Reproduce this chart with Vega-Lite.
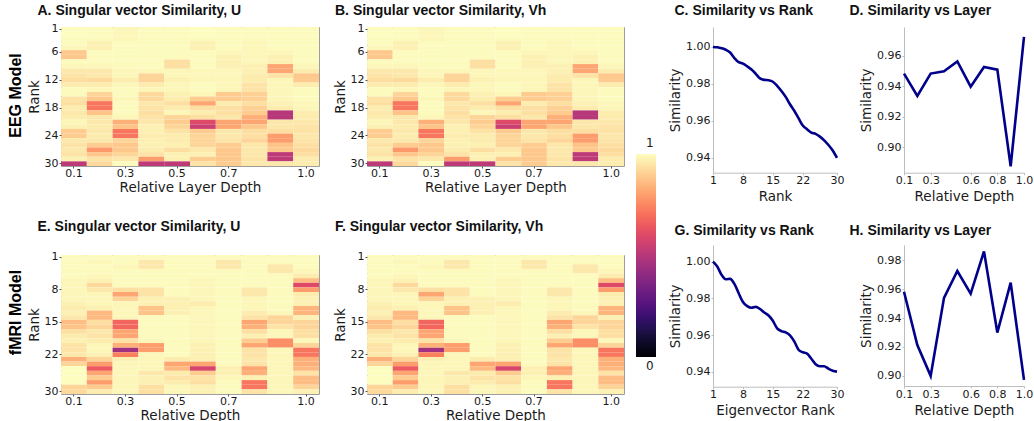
{
"$schema": "https://vega.github.io/schema/vega-lite/v6.json",
"padding": {"left": 7, "top": 3, "right": 0, "bottom": 0},
"background": "white",
"config": {
  "font": "DejaVu Sans",
  "axis": {"labelFont": "DejaVu Sans", "labelFontSize": 11, "labelColor": "#1a1a1a", "titleFont": "DejaVu Sans", "titleFontSize": 13.5, "titleFontWeight": "normal", "titleColor": "#1a1a1a", "tickSize": 2, "labelPadding": 1, "grid": false, "tickColor": "#555"},
  "axisX": {"labelPadding": -1, "titlePadding": 2},
  "title": {"font": "Liberation Sans", "fontSize": 14, "fontWeight": "bold", "color": "#111", "anchor": "start"}
},
"datasets": {
"eeg": [
{"depth":"0.1","rank":1,"sim":0.995},{"depth":"0.1","rank":2,"sim":1},{"depth":"0.1","rank":3,"sim":0.995},{"depth":"0.1","rank":4,"sim":0.995},{"depth":"0.1","rank":5,"sim":0.985},{"depth":"0.1","rank":6,"sim":0.885},{"depth":"0.1","rank":7,"sim":0.885},{"depth":"0.1","rank":8,"sim":0.995},{"depth":"0.1","rank":9,"sim":0.985},{"depth":"0.1","rank":10,"sim":0.955},{"depth":"0.1","rank":11,"sim":0.945},{"depth":"0.1","rank":12,"sim":0.935},{"depth":"0.1","rank":13,"sim":0.965},{"depth":"0.1","rank":14,"sim":0.995},{"depth":"0.1","rank":15,"sim":0.995},{"depth":"0.1","rank":16,"sim":0.945},{"depth":"0.1","rank":17,"sim":0.935},{"depth":"0.1","rank":18,"sim":0.965},{"depth":"0.1","rank":19,"sim":0.955},{"depth":"0.1","rank":20,"sim":0.965},{"depth":"0.1","rank":21,"sim":0.985},{"depth":"0.1","rank":22,"sim":0.975},{"depth":"0.1","rank":23,"sim":0.895},{"depth":"0.1","rank":24,"sim":0.895},{"depth":"0.1","rank":25,"sim":0.955},{"depth":"0.1","rank":26,"sim":0.945},{"depth":"0.1","rank":27,"sim":0.955},{"depth":"0.1","rank":28,"sim":0.945},{"depth":"0.1","rank":29,"sim":0.975},{"depth":"0.1","rank":30,"sim":0.52},
{"depth":"0.2","rank":1,"sim":0.995},{"depth":"0.2","rank":2,"sim":0.995},{"depth":"0.2","rank":3,"sim":0.995},{"depth":"0.2","rank":4,"sim":0.975},{"depth":"0.2","rank":5,"sim":0.975},{"depth":"0.2","rank":6,"sim":0.995},{"depth":"0.2","rank":7,"sim":0.995},{"depth":"0.2","rank":8,"sim":0.995},{"depth":"0.2","rank":9,"sim":0.985},{"depth":"0.2","rank":10,"sim":0.955},{"depth":"0.2","rank":11,"sim":0.955},{"depth":"0.2","rank":12,"sim":0.925},{"depth":"0.2","rank":13,"sim":0.965},{"depth":"0.2","rank":14,"sim":0.985},{"depth":"0.2","rank":15,"sim":0.915},{"depth":"0.2","rank":16,"sim":0.885},{"depth":"0.2","rank":17,"sim":0.715},{"depth":"0.2","rank":18,"sim":0.715},{"depth":"0.2","rank":19,"sim":0.875},{"depth":"0.2","rank":20,"sim":0.955},{"depth":"0.2","rank":21,"sim":0.955},{"depth":"0.2","rank":22,"sim":0.965},{"depth":"0.2","rank":23,"sim":0.955},{"depth":"0.2","rank":24,"sim":0.965},{"depth":"0.2","rank":25,"sim":0.955},{"depth":"0.2","rank":26,"sim":0.895},{"depth":"0.2","rank":27,"sim":0.785},{"depth":"0.2","rank":28,"sim":0.885},{"depth":"0.2","rank":29,"sim":0.945},{"depth":"0.2","rank":30,"sim":0.925},
{"depth":"0.3","rank":1,"sim":0.985},{"depth":"0.3","rank":2,"sim":0.985},{"depth":"0.3","rank":3,"sim":0.985},{"depth":"0.3","rank":4,"sim":0.995},{"depth":"0.3","rank":5,"sim":0.995},{"depth":"0.3","rank":6,"sim":0.995},{"depth":"0.3","rank":7,"sim":0.995},{"depth":"0.3","rank":8,"sim":0.995},{"depth":"0.3","rank":9,"sim":0.995},{"depth":"0.3","rank":10,"sim":0.985},{"depth":"0.3","rank":11,"sim":0.985},{"depth":"0.3","rank":12,"sim":0.965},{"depth":"0.3","rank":13,"sim":0.985},{"depth":"0.3","rank":14,"sim":0.995},{"depth":"0.3","rank":15,"sim":0.995},{"depth":"0.3","rank":16,"sim":0.985},{"depth":"0.3","rank":17,"sim":0.995},{"depth":"0.3","rank":18,"sim":0.995},{"depth":"0.3","rank":19,"sim":0.995},{"depth":"0.3","rank":20,"sim":0.985},{"depth":"0.3","rank":21,"sim":0.835},{"depth":"0.3","rank":22,"sim":0.875},{"depth":"0.3","rank":23,"sim":0.715},{"depth":"0.3","rank":24,"sim":0.715},{"depth":"0.3","rank":25,"sim":0.915},{"depth":"0.3","rank":26,"sim":0.885},{"depth":"0.3","rank":27,"sim":0.885},{"depth":"0.3","rank":28,"sim":0.915},{"depth":"0.3","rank":29,"sim":0.955},{"depth":"0.3","rank":30,"sim":0.995},
{"depth":"0.4","rank":1,"sim":0.995},{"depth":"0.4","rank":2,"sim":0.995},{"depth":"0.4","rank":3,"sim":0.995},{"depth":"0.4","rank":4,"sim":0.995},{"depth":"0.4","rank":5,"sim":0.995},{"depth":"0.4","rank":6,"sim":0.995},{"depth":"0.4","rank":7,"sim":0.995},{"depth":"0.4","rank":8,"sim":0.995},{"depth":"0.4","rank":9,"sim":0.995},{"depth":"0.4","rank":10,"sim":0.985},{"depth":"0.4","rank":11,"sim":0.915},{"depth":"0.4","rank":12,"sim":0.915},{"depth":"0.4","rank":13,"sim":0.965},{"depth":"0.4","rank":14,"sim":0.985},{"depth":"0.4","rank":15,"sim":0.925},{"depth":"0.4","rank":16,"sim":0.925},{"depth":"0.4","rank":17,"sim":0.955},{"depth":"0.4","rank":18,"sim":0.945},{"depth":"0.4","rank":19,"sim":0.935},{"depth":"0.4","rank":20,"sim":0.945},{"depth":"0.4","rank":21,"sim":0.955},{"depth":"0.4","rank":22,"sim":0.975},{"depth":"0.4","rank":23,"sim":0.975},{"depth":"0.4","rank":24,"sim":0.965},{"depth":"0.4","rank":25,"sim":0.975},{"depth":"0.4","rank":26,"sim":0.975},{"depth":"0.4","rank":27,"sim":0.965},{"depth":"0.4","rank":28,"sim":0.945},{"depth":"0.4","rank":29,"sim":0.795},{"depth":"0.4","rank":30,"sim":0.52},
{"depth":"0.5","rank":1,"sim":0.995},{"depth":"0.5","rank":2,"sim":0.995},{"depth":"0.5","rank":3,"sim":0.995},{"depth":"0.5","rank":4,"sim":0.995},{"depth":"0.5","rank":5,"sim":0.995},{"depth":"0.5","rank":6,"sim":0.995},{"depth":"0.5","rank":7,"sim":0.995},{"depth":"0.5","rank":8,"sim":0.935},{"depth":"0.5","rank":9,"sim":0.935},{"depth":"0.5","rank":10,"sim":0.985},{"depth":"0.5","rank":11,"sim":0.985},{"depth":"0.5","rank":12,"sim":0.975},{"depth":"0.5","rank":13,"sim":0.985},{"depth":"0.5","rank":14,"sim":0.985},{"depth":"0.5","rank":15,"sim":0.975},{"depth":"0.5","rank":16,"sim":0.965},{"depth":"0.5","rank":17,"sim":0.935},{"depth":"0.5","rank":18,"sim":0.965},{"depth":"0.5","rank":19,"sim":0.985},{"depth":"0.5","rank":20,"sim":0.915},{"depth":"0.5","rank":21,"sim":0.895},{"depth":"0.5","rank":22,"sim":0.915},{"depth":"0.5","rank":23,"sim":0.945},{"depth":"0.5","rank":24,"sim":0.965},{"depth":"0.5","rank":25,"sim":0.965},{"depth":"0.5","rank":26,"sim":0.975},{"depth":"0.5","rank":27,"sim":0.935},{"depth":"0.5","rank":28,"sim":0.975},{"depth":"0.5","rank":29,"sim":0.975},{"depth":"0.5","rank":30,"sim":0.52},
{"depth":"0.6","rank":1,"sim":1},{"depth":"0.6","rank":2,"sim":1},{"depth":"0.6","rank":3,"sim":0.995},{"depth":"0.6","rank":4,"sim":0.975},{"depth":"0.6","rank":5,"sim":0.975},{"depth":"0.6","rank":6,"sim":0.995},{"depth":"0.6","rank":7,"sim":0.995},{"depth":"0.6","rank":8,"sim":0.995},{"depth":"0.6","rank":9,"sim":0.995},{"depth":"0.6","rank":10,"sim":0.985},{"depth":"0.6","rank":11,"sim":0.985},{"depth":"0.6","rank":12,"sim":0.985},{"depth":"0.6","rank":13,"sim":0.995},{"depth":"0.6","rank":14,"sim":0.995},{"depth":"0.6","rank":15,"sim":0.985},{"depth":"0.6","rank":16,"sim":0.895},{"depth":"0.6","rank":17,"sim":0.815},{"depth":"0.6","rank":18,"sim":0.935},{"depth":"0.6","rank":19,"sim":0.965},{"depth":"0.6","rank":20,"sim":0.935},{"depth":"0.6","rank":21,"sim":0.6},{"depth":"0.6","rank":22,"sim":0.55},{"depth":"0.6","rank":23,"sim":0.895},{"depth":"0.6","rank":24,"sim":0.915},{"depth":"0.6","rank":25,"sim":0.915},{"depth":"0.6","rank":26,"sim":0.915},{"depth":"0.6","rank":27,"sim":0.955},{"depth":"0.6","rank":28,"sim":0.975},{"depth":"0.6","rank":29,"sim":0.895},{"depth":"0.6","rank":30,"sim":0.945},
{"depth":"0.7","rank":1,"sim":0.995},{"depth":"0.7","rank":2,"sim":0.995},{"depth":"0.7","rank":3,"sim":0.995},{"depth":"0.7","rank":4,"sim":0.995},{"depth":"0.7","rank":5,"sim":0.995},{"depth":"0.7","rank":6,"sim":0.985},{"depth":"0.7","rank":7,"sim":0.975},{"depth":"0.7","rank":8,"sim":0.975},{"depth":"0.7","rank":9,"sim":0.975},{"depth":"0.7","rank":10,"sim":0.985},{"depth":"0.7","rank":11,"sim":0.985},{"depth":"0.7","rank":12,"sim":0.985},{"depth":"0.7","rank":13,"sim":0.985},{"depth":"0.7","rank":14,"sim":0.985},{"depth":"0.7","rank":15,"sim":0.895},{"depth":"0.7","rank":16,"sim":0.895},{"depth":"0.7","rank":17,"sim":0.965},{"depth":"0.7","rank":18,"sim":0.935},{"depth":"0.7","rank":19,"sim":0.935},{"depth":"0.7","rank":20,"sim":0.955},{"depth":"0.7","rank":21,"sim":0.815},{"depth":"0.7","rank":22,"sim":0.815},{"depth":"0.7","rank":23,"sim":0.955},{"depth":"0.7","rank":24,"sim":0.955},{"depth":"0.7","rank":25,"sim":0.945},{"depth":"0.7","rank":26,"sim":0.895},{"depth":"0.7","rank":27,"sim":0.885},{"depth":"0.7","rank":28,"sim":0.885},{"depth":"0.7","rank":29,"sim":0.885},{"depth":"0.7","rank":30,"sim":0.895},
{"depth":"0.8","rank":1,"sim":0.995},{"depth":"0.8","rank":2,"sim":0.995},{"depth":"0.8","rank":3,"sim":0.995},{"depth":"0.8","rank":4,"sim":0.985},{"depth":"0.8","rank":5,"sim":0.985},{"depth":"0.8","rank":6,"sim":0.985},{"depth":"0.8","rank":7,"sim":0.985},{"depth":"0.8","rank":8,"sim":0.985},{"depth":"0.8","rank":9,"sim":0.975},{"depth":"0.8","rank":10,"sim":0.975},{"depth":"0.8","rank":11,"sim":0.965},{"depth":"0.8","rank":12,"sim":0.965},{"depth":"0.8","rank":13,"sim":0.945},{"depth":"0.8","rank":14,"sim":0.945},{"depth":"0.8","rank":15,"sim":0.905},{"depth":"0.8","rank":16,"sim":0.905},{"depth":"0.8","rank":17,"sim":0.935},{"depth":"0.8","rank":18,"sim":0.905},{"depth":"0.8","rank":19,"sim":0.895},{"depth":"0.8","rank":20,"sim":0.835},{"depth":"0.8","rank":21,"sim":0.815},{"depth":"0.8","rank":22,"sim":0.885},{"depth":"0.8","rank":23,"sim":0.935},{"depth":"0.8","rank":24,"sim":0.935},{"depth":"0.8","rank":25,"sim":0.915},{"depth":"0.8","rank":26,"sim":0.955},{"depth":"0.8","rank":27,"sim":0.955},{"depth":"0.8","rank":28,"sim":0.955},{"depth":"0.8","rank":29,"sim":0.945},{"depth":"0.8","rank":30,"sim":0.955},
{"depth":"0.9","rank":1,"sim":0.995},{"depth":"0.9","rank":2,"sim":0.995},{"depth":"0.9","rank":3,"sim":0.995},{"depth":"0.9","rank":4,"sim":0.995},{"depth":"0.9","rank":5,"sim":0.995},{"depth":"0.9","rank":6,"sim":0.985},{"depth":"0.9","rank":7,"sim":0.975},{"depth":"0.9","rank":8,"sim":0.975},{"depth":"0.9","rank":9,"sim":0.815},{"depth":"0.9","rank":10,"sim":0.815},{"depth":"0.9","rank":11,"sim":0.945},{"depth":"0.9","rank":12,"sim":0.985},{"depth":"0.9","rank":13,"sim":0.985},{"depth":"0.9","rank":14,"sim":0.985},{"depth":"0.9","rank":15,"sim":0.985},{"depth":"0.9","rank":16,"sim":0.985},{"depth":"0.9","rank":17,"sim":0.975},{"depth":"0.9","rank":18,"sim":0.965},{"depth":"0.9","rank":19,"sim":0.5},{"depth":"0.9","rank":20,"sim":0.5},{"depth":"0.9","rank":21,"sim":0.955},{"depth":"0.9","rank":22,"sim":0.955},{"depth":"0.9","rank":23,"sim":0.935},{"depth":"0.9","rank":24,"sim":0.795},{"depth":"0.9","rank":25,"sim":0.795},{"depth":"0.9","rank":26,"sim":0.875},{"depth":"0.9","rank":27,"sim":0.885},{"depth":"0.9","rank":28,"sim":0.52},{"depth":"0.9","rank":29,"sim":0.52},{"depth":"0.9","rank":30,"sim":0.955},
{"depth":"1.0","rank":1,"sim":0.995},{"depth":"1.0","rank":2,"sim":0.995},{"depth":"1.0","rank":3,"sim":0.995},{"depth":"1.0","rank":4,"sim":0.995},{"depth":"1.0","rank":5,"sim":0.995},{"depth":"1.0","rank":6,"sim":0.995},{"depth":"1.0","rank":7,"sim":0.995},{"depth":"1.0","rank":8,"sim":0.995},{"depth":"1.0","rank":9,"sim":0.985},{"depth":"1.0","rank":10,"sim":0.965},{"depth":"1.0","rank":11,"sim":0.885},{"depth":"1.0","rank":12,"sim":0.895},{"depth":"1.0","rank":13,"sim":0.965},{"depth":"1.0","rank":14,"sim":0.995},{"depth":"1.0","rank":15,"sim":0.995},{"depth":"1.0","rank":16,"sim":0.995},{"depth":"1.0","rank":17,"sim":0.985},{"depth":"1.0","rank":18,"sim":0.985},{"depth":"1.0","rank":19,"sim":0.965},{"depth":"1.0","rank":20,"sim":0.965},{"depth":"1.0","rank":21,"sim":0.955},{"depth":"1.0","rank":22,"sim":0.945},{"depth":"1.0","rank":23,"sim":0.945},{"depth":"1.0","rank":24,"sim":0.955},{"depth":"1.0","rank":25,"sim":0.945},{"depth":"1.0","rank":26,"sim":0.935},{"depth":"1.0","rank":27,"sim":0.925},{"depth":"1.0","rank":28,"sim":0.935},{"depth":"1.0","rank":29,"sim":0.965},{"depth":"1.0","rank":30,"sim":0.965}
],
"fmri": [
{"depth":"0.1","rank":1,"sim":0.995},{"depth":"0.1","rank":2,"sim":0.995},{"depth":"0.1","rank":3,"sim":0.995},{"depth":"0.1","rank":4,"sim":0.995},{"depth":"0.1","rank":5,"sim":0.995},{"depth":"0.1","rank":6,"sim":0.985},{"depth":"0.1","rank":7,"sim":0.985},{"depth":"0.1","rank":8,"sim":0.985},{"depth":"0.1","rank":9,"sim":0.985},{"depth":"0.1","rank":10,"sim":0.985},{"depth":"0.1","rank":11,"sim":0.975},{"depth":"0.1","rank":12,"sim":0.965},{"depth":"0.1","rank":13,"sim":0.975},{"depth":"0.1","rank":14,"sim":0.955},{"depth":"0.1","rank":15,"sim":0.865},{"depth":"0.1","rank":16,"sim":0.875},{"depth":"0.1","rank":17,"sim":0.935},{"depth":"0.1","rank":18,"sim":0.965},{"depth":"0.1","rank":19,"sim":0.975},{"depth":"0.1","rank":20,"sim":0.945},{"depth":"0.1","rank":21,"sim":0.945},{"depth":"0.1","rank":22,"sim":0.955},{"depth":"0.1","rank":23,"sim":0.835},{"depth":"0.1","rank":24,"sim":0.915},{"depth":"0.1","rank":25,"sim":1},{"depth":"0.1","rank":26,"sim":1},{"depth":"0.1","rank":27,"sim":1},{"depth":"0.1","rank":28,"sim":1},{"depth":"0.1","rank":29,"sim":0.915},{"depth":"0.1","rank":30,"sim":0.925},
{"depth":"0.2","rank":1,"sim":0.995},{"depth":"0.2","rank":2,"sim":0.985},{"depth":"0.2","rank":3,"sim":0.995},{"depth":"0.2","rank":4,"sim":0.995},{"depth":"0.2","rank":5,"sim":0.985},{"depth":"0.2","rank":6,"sim":0.975},{"depth":"0.2","rank":7,"sim":0.925},{"depth":"0.2","rank":8,"sim":0.955},{"depth":"0.2","rank":9,"sim":0.985},{"depth":"0.2","rank":10,"sim":0.985},{"depth":"0.2","rank":11,"sim":0.985},{"depth":"0.2","rank":12,"sim":0.975},{"depth":"0.2","rank":13,"sim":0.855},{"depth":"0.2","rank":14,"sim":0.855},{"depth":"0.2","rank":15,"sim":0.935},{"depth":"0.2","rank":16,"sim":0.915},{"depth":"0.2","rank":17,"sim":0.955},{"depth":"0.2","rank":18,"sim":0.945},{"depth":"0.2","rank":19,"sim":0.965},{"depth":"0.2","rank":20,"sim":0.985},{"depth":"0.2","rank":21,"sim":0.985},{"depth":"0.2","rank":22,"sim":0.975},{"depth":"0.2","rank":23,"sim":0.915},{"depth":"0.2","rank":24,"sim":0.795},{"depth":"0.2","rank":25,"sim":0.65},{"depth":"0.2","rank":26,"sim":0.815},{"depth":"0.2","rank":27,"sim":0.895},{"depth":"0.2","rank":28,"sim":0.795},{"depth":"0.2","rank":29,"sim":0.895},{"depth":"0.2","rank":30,"sim":0.965},
{"depth":"0.3","rank":1,"sim":0.995},{"depth":"0.3","rank":2,"sim":0.995},{"depth":"0.3","rank":3,"sim":0.985},{"depth":"0.3","rank":4,"sim":0.995},{"depth":"0.3","rank":5,"sim":0.995},{"depth":"0.3","rank":6,"sim":0.995},{"depth":"0.3","rank":7,"sim":0.995},{"depth":"0.3","rank":8,"sim":0.935},{"depth":"0.3","rank":9,"sim":0.815},{"depth":"0.3","rank":10,"sim":0.915},{"depth":"0.3","rank":11,"sim":0.985},{"depth":"0.3","rank":12,"sim":0.985},{"depth":"0.3","rank":13,"sim":0.985},{"depth":"0.3","rank":14,"sim":0.985},{"depth":"0.3","rank":15,"sim":0.68},{"depth":"0.3","rank":16,"sim":0.68},{"depth":"0.3","rank":17,"sim":0.815},{"depth":"0.3","rank":18,"sim":0.815},{"depth":"0.3","rank":19,"sim":0.945},{"depth":"0.3","rank":20,"sim":0.835},{"depth":"0.3","rank":21,"sim":0.45},{"depth":"0.3","rank":22,"sim":0.735},{"depth":"0.3","rank":23,"sim":0.975},{"depth":"0.3","rank":24,"sim":0.985},{"depth":"0.3","rank":25,"sim":0.985},{"depth":"0.3","rank":26,"sim":0.985},{"depth":"0.3","rank":27,"sim":0.985},{"depth":"0.3","rank":28,"sim":0.985},{"depth":"0.3","rank":29,"sim":0.985},{"depth":"0.3","rank":30,"sim":0.985},
{"depth":"0.4","rank":1,"sim":0.995},{"depth":"0.4","rank":2,"sim":0.955},{"depth":"0.4","rank":3,"sim":0.955},{"depth":"0.4","rank":4,"sim":0.995},{"depth":"0.4","rank":5,"sim":0.995},{"depth":"0.4","rank":6,"sim":0.995},{"depth":"0.4","rank":7,"sim":0.995},{"depth":"0.4","rank":8,"sim":0.945},{"depth":"0.4","rank":9,"sim":0.945},{"depth":"0.4","rank":10,"sim":0.975},{"depth":"0.4","rank":11,"sim":0.975},{"depth":"0.4","rank":12,"sim":0.875},{"depth":"0.4","rank":13,"sim":0.875},{"depth":"0.4","rank":14,"sim":0.995},{"depth":"0.4","rank":15,"sim":0.995},{"depth":"0.4","rank":16,"sim":0.995},{"depth":"0.4","rank":17,"sim":0.995},{"depth":"0.4","rank":18,"sim":0.995},{"depth":"0.4","rank":19,"sim":0.985},{"depth":"0.4","rank":20,"sim":0.795},{"depth":"0.4","rank":21,"sim":0.795},{"depth":"0.4","rank":22,"sim":0.985},{"depth":"0.4","rank":23,"sim":0.985},{"depth":"0.4","rank":24,"sim":0.985},{"depth":"0.4","rank":25,"sim":0.985},{"depth":"0.4","rank":26,"sim":0.955},{"depth":"0.4","rank":27,"sim":0.975},{"depth":"0.4","rank":28,"sim":0.975},{"depth":"0.4","rank":29,"sim":0.935},{"depth":"0.4","rank":30,"sim":0.935},
{"depth":"0.5","rank":1,"sim":0.995},{"depth":"0.5","rank":2,"sim":0.995},{"depth":"0.5","rank":3,"sim":0.995},{"depth":"0.5","rank":4,"sim":0.995},{"depth":"0.5","rank":5,"sim":0.995},{"depth":"0.5","rank":6,"sim":0.995},{"depth":"0.5","rank":7,"sim":0.995},{"depth":"0.5","rank":8,"sim":0.995},{"depth":"0.5","rank":9,"sim":0.995},{"depth":"0.5","rank":10,"sim":0.975},{"depth":"0.5","rank":11,"sim":0.975},{"depth":"0.5","rank":12,"sim":0.975},{"depth":"0.5","rank":13,"sim":0.975},{"depth":"0.5","rank":14,"sim":0.995},{"depth":"0.5","rank":15,"sim":0.995},{"depth":"0.5","rank":16,"sim":0.995},{"depth":"0.5","rank":17,"sim":0.995},{"depth":"0.5","rank":18,"sim":0.995},{"depth":"0.5","rank":19,"sim":0.995},{"depth":"0.5","rank":20,"sim":0.995},{"depth":"0.5","rank":21,"sim":0.995},{"depth":"0.5","rank":22,"sim":0.995},{"depth":"0.5","rank":23,"sim":0.965},{"depth":"0.5","rank":24,"sim":0.815},{"depth":"0.5","rank":25,"sim":0.855},{"depth":"0.5","rank":26,"sim":0.965},{"depth":"0.5","rank":27,"sim":0.945},{"depth":"0.5","rank":28,"sim":0.965},{"depth":"0.5","rank":29,"sim":0.985},{"depth":"0.5","rank":30,"sim":0.985},
{"depth":"0.6","rank":1,"sim":0.995},{"depth":"0.6","rank":2,"sim":0.995},{"depth":"0.6","rank":3,"sim":0.995},{"depth":"0.6","rank":4,"sim":0.995},{"depth":"0.6","rank":5,"sim":0.995},{"depth":"0.6","rank":6,"sim":0.985},{"depth":"0.6","rank":7,"sim":0.985},{"depth":"0.6","rank":8,"sim":0.985},{"depth":"0.6","rank":9,"sim":0.985},{"depth":"0.6","rank":10,"sim":0.985},{"depth":"0.6","rank":11,"sim":0.965},{"depth":"0.6","rank":12,"sim":0.985},{"depth":"0.6","rank":13,"sim":0.985},{"depth":"0.6","rank":14,"sim":0.985},{"depth":"0.6","rank":15,"sim":0.985},{"depth":"0.6","rank":16,"sim":0.985},{"depth":"0.6","rank":17,"sim":0.985},{"depth":"0.6","rank":18,"sim":0.985},{"depth":"0.6","rank":19,"sim":0.985},{"depth":"0.6","rank":20,"sim":0.975},{"depth":"0.6","rank":21,"sim":0.975},{"depth":"0.6","rank":22,"sim":0.975},{"depth":"0.6","rank":23,"sim":0.975},{"depth":"0.6","rank":24,"sim":0.815},{"depth":"0.6","rank":25,"sim":0.58},{"depth":"0.6","rank":26,"sim":0.895},{"depth":"0.6","rank":27,"sim":0.945},{"depth":"0.6","rank":28,"sim":0.935},{"depth":"0.6","rank":29,"sim":0.975},{"depth":"0.6","rank":30,"sim":0.975},
{"depth":"0.7","rank":1,"sim":0.995},{"depth":"0.7","rank":2,"sim":0.955},{"depth":"0.7","rank":3,"sim":0.955},{"depth":"0.7","rank":4,"sim":0.995},{"depth":"0.7","rank":5,"sim":0.995},{"depth":"0.7","rank":6,"sim":0.995},{"depth":"0.7","rank":7,"sim":0.995},{"depth":"0.7","rank":8,"sim":0.995},{"depth":"0.7","rank":9,"sim":0.995},{"depth":"0.7","rank":10,"sim":0.995},{"depth":"0.7","rank":11,"sim":0.995},{"depth":"0.7","rank":12,"sim":0.995},{"depth":"0.7","rank":13,"sim":0.995},{"depth":"0.7","rank":14,"sim":0.995},{"depth":"0.7","rank":15,"sim":0.995},{"depth":"0.7","rank":16,"sim":0.995},{"depth":"0.7","rank":17,"sim":0.995},{"depth":"0.7","rank":18,"sim":0.995},{"depth":"0.7","rank":19,"sim":0.995},{"depth":"0.7","rank":20,"sim":0.995},{"depth":"0.7","rank":21,"sim":0.995},{"depth":"0.7","rank":22,"sim":0.995},{"depth":"0.7","rank":23,"sim":0.995},{"depth":"0.7","rank":24,"sim":0.995},{"depth":"0.7","rank":25,"sim":0.975},{"depth":"0.7","rank":26,"sim":0.975},{"depth":"0.7","rank":27,"sim":0.985},{"depth":"0.7","rank":28,"sim":0.995},{"depth":"0.7","rank":29,"sim":0.995},{"depth":"0.7","rank":30,"sim":0.995},
{"depth":"0.8","rank":1,"sim":0.995},{"depth":"0.8","rank":2,"sim":0.995},{"depth":"0.8","rank":3,"sim":0.995},{"depth":"0.8","rank":4,"sim":0.995},{"depth":"0.8","rank":5,"sim":0.995},{"depth":"0.8","rank":6,"sim":0.995},{"depth":"0.8","rank":7,"sim":0.995},{"depth":"0.8","rank":8,"sim":0.955},{"depth":"0.8","rank":9,"sim":0.955},{"depth":"0.8","rank":10,"sim":0.985},{"depth":"0.8","rank":11,"sim":0.985},{"depth":"0.8","rank":12,"sim":0.985},{"depth":"0.8","rank":13,"sim":0.965},{"depth":"0.8","rank":14,"sim":0.945},{"depth":"0.8","rank":15,"sim":0.815},{"depth":"0.8","rank":16,"sim":0.835},{"depth":"0.8","rank":17,"sim":0.935},{"depth":"0.8","rank":18,"sim":0.975},{"depth":"0.8","rank":19,"sim":0.895},{"depth":"0.8","rank":20,"sim":0.815},{"depth":"0.8","rank":21,"sim":0.945},{"depth":"0.8","rank":22,"sim":0.945},{"depth":"0.8","rank":23,"sim":0.955},{"depth":"0.8","rank":24,"sim":0.945},{"depth":"0.8","rank":25,"sim":0.815},{"depth":"0.8","rank":26,"sim":0.835},{"depth":"0.8","rank":27,"sim":0.975},{"depth":"0.8","rank":28,"sim":0.715},{"depth":"0.8","rank":29,"sim":0.715},{"depth":"0.8","rank":30,"sim":0.945},
{"depth":"0.9","rank":1,"sim":0.995},{"depth":"0.9","rank":2,"sim":0.995},{"depth":"0.9","rank":3,"sim":0.955},{"depth":"0.9","rank":4,"sim":0.955},{"depth":"0.9","rank":5,"sim":0.995},{"depth":"0.9","rank":6,"sim":0.995},{"depth":"0.9","rank":7,"sim":0.995},{"depth":"0.9","rank":8,"sim":0.995},{"depth":"0.9","rank":9,"sim":0.995},{"depth":"0.9","rank":10,"sim":0.995},{"depth":"0.9","rank":11,"sim":0.995},{"depth":"0.9","rank":12,"sim":0.995},{"depth":"0.9","rank":13,"sim":0.985},{"depth":"0.9","rank":14,"sim":0.915},{"depth":"0.9","rank":15,"sim":0.915},{"depth":"0.9","rank":16,"sim":0.945},{"depth":"0.9","rank":17,"sim":0.985},{"depth":"0.9","rank":18,"sim":0.985},{"depth":"0.9","rank":19,"sim":0.765},{"depth":"0.9","rank":20,"sim":0.765},{"depth":"0.9","rank":21,"sim":0.985},{"depth":"0.9","rank":22,"sim":0.985},{"depth":"0.9","rank":23,"sim":0.985},{"depth":"0.9","rank":24,"sim":0.985},{"depth":"0.9","rank":25,"sim":0.985},{"depth":"0.9","rank":26,"sim":0.985},{"depth":"0.9","rank":27,"sim":0.985},{"depth":"0.9","rank":28,"sim":0.985},{"depth":"0.9","rank":29,"sim":0.985},{"depth":"0.9","rank":30,"sim":0.985},
{"depth":"1.0","rank":1,"sim":0.995},{"depth":"1.0","rank":2,"sim":0.995},{"depth":"1.0","rank":3,"sim":0.995},{"depth":"1.0","rank":4,"sim":0.985},{"depth":"1.0","rank":5,"sim":0.965},{"depth":"1.0","rank":6,"sim":0.865},{"depth":"1.0","rank":7,"sim":0.6},{"depth":"1.0","rank":8,"sim":0.795},{"depth":"1.0","rank":9,"sim":0.965},{"depth":"1.0","rank":10,"sim":0.975},{"depth":"1.0","rank":11,"sim":0.975},{"depth":"1.0","rank":12,"sim":0.845},{"depth":"1.0","rank":13,"sim":0.845},{"depth":"1.0","rank":14,"sim":0.975},{"depth":"1.0","rank":15,"sim":0.915},{"depth":"1.0","rank":16,"sim":0.915},{"depth":"1.0","rank":17,"sim":0.935},{"depth":"1.0","rank":18,"sim":0.935},{"depth":"1.0","rank":19,"sim":0.985},{"depth":"1.0","rank":20,"sim":0.915},{"depth":"1.0","rank":21,"sim":0.715},{"depth":"1.0","rank":22,"sim":0.715},{"depth":"1.0","rank":23,"sim":0.835},{"depth":"1.0","rank":24,"sim":0.835},{"depth":"1.0","rank":25,"sim":0.855},{"depth":"1.0","rank":26,"sim":0.945},{"depth":"1.0","rank":27,"sim":0.865},{"depth":"1.0","rank":28,"sim":0.865},{"depth":"1.0","rank":29,"sim":0.915},{"depth":"1.0","rank":30,"sim":0.975}
],
"eegRank": [
{"rank":1,"sim":1.0},{"rank":2,"sim":0.9998},{"rank":3,"sim":0.9993},{"rank":4,"sim":0.9985},{"rank":5,"sim":0.997},{"rank":6,"sim":0.994},{"rank":7,"sim":0.9918},{"rank":8,"sim":0.991},{"rank":9,"sim":0.9895},{"rank":10,"sim":0.9878},{"rank":11,"sim":0.9855},{"rank":12,"sim":0.983},{"rank":13,"sim":0.9822},{"rank":14,"sim":0.982},{"rank":15,"sim":0.9812},{"rank":16,"sim":0.979},{"rank":17,"sim":0.9762},{"rank":18,"sim":0.973},{"rank":19,"sim":0.969},{"rank":20,"sim":0.9655},{"rank":21,"sim":0.9615},{"rank":22,"sim":0.9575},{"rank":23,"sim":0.9555},{"rank":24,"sim":0.9537},{"rank":25,"sim":0.953},{"rank":26,"sim":0.9515},{"rank":27,"sim":0.9495},{"rank":28,"sim":0.947},{"rank":29,"sim":0.944},{"rank":30,"sim":0.94}
],
"eegLayer": [
{"depth":0.1,"sim":0.9482},{"depth":0.2,"sim":0.9335},{"depth":0.3,"sim":0.9482},{"depth":0.4,"sim":0.9497},{"depth":0.5,"sim":0.9561},{"depth":0.6,"sim":0.9396},{"depth":0.7,"sim":0.9525},{"depth":0.8,"sim":0.9508},{"depth":0.9,"sim":0.8875},{"depth":1.0,"sim":0.9723}
],
"fmriRank": [
{"rank":1,"sim":1.0},{"rank":2,"sim":0.9973},{"rank":3,"sim":0.9928},{"rank":4,"sim":0.9904},{"rank":5,"sim":0.9906},{"rank":6,"sim":0.9879},{"rank":7,"sim":0.9828},{"rank":8,"sim":0.978},{"rank":9,"sim":0.9758},{"rank":10,"sim":0.9749},{"rank":11,"sim":0.9754},{"rank":12,"sim":0.9742},{"rank":13,"sim":0.9723},{"rank":14,"sim":0.9707},{"rank":15,"sim":0.9678},{"rank":16,"sim":0.9637},{"rank":17,"sim":0.9622},{"rank":18,"sim":0.9615},{"rank":19,"sim":0.9599},{"rank":20,"sim":0.9566},{"rank":21,"sim":0.9521},{"rank":22,"sim":0.9507},{"rank":23,"sim":0.95},{"rank":24,"sim":0.9472},{"rank":25,"sim":0.9442},{"rank":26,"sim":0.9431},{"rank":27,"sim":0.9431},{"rank":28,"sim":0.9418},{"rank":29,"sim":0.9407},{"rank":30,"sim":0.9402}
],
"fmriLayer": [
{"depth":0.1,"sim":0.9582},{"depth":0.2,"sim":0.9214},{"depth":0.3,"sim":0.9},{"depth":0.4,"sim":0.954},{"depth":0.5,"sim":0.9726},{"depth":0.6,"sim":0.957},{"depth":0.7,"sim":0.9862},{"depth":0.8,"sim":0.93},{"depth":0.9,"sim":0.9646},{"depth":1.0,"sim":0.8972}
]
},
"spacing": 43,
"hconcat": [
 {"spacing": 12, "hconcat": [
  {"spacing": 25, "align": "none", "vconcat": [
    {"width": 258, "height": 139, "title": {"text": "A. Singular vector Similarity, U", "dx": 30, "offset": 5.2},
     "data": {"name": "eeg"}, "view": {"stroke": "#9e9e9e"},
     "resolve": {"axis": {"y": "independent"}},
     "layer": [
      {"mark": {"type": "rect"},
       "encoding": {
         "x": {"field": "depth", "type": "ordinal", "scale": {"paddingInner": 0, "paddingOuter": 0}, "axis": {"values": ["0.1","0.3","0.5","0.7","1.0"], "labelAngle": 0, "title": "Relative Layer Depth", "domain": false}},
         "y": {"field": "rank", "type": "ordinal", "scale": {"paddingInner": 0, "paddingOuter": 0}, "axis": {"values": [1,6,12,18,24,30], "title": "Rank", "domain": false, "titlePadding": 3}},
         "color": {"field": "sim", "type": "quantitative", "scale": {"scheme": "magma", "domain": [0, 1]},
           "legend": {"orient": "none", "legendX": 575, "legendY": 127, "direction": "vertical", "gradientLength": 203, "gradientThickness": 20, "values": [0, 1], "format": ".0f", "title": null, "labelFont": "DejaVu Sans", "labelFontSize": 12, "labelColor": "#1a1a1a", "labelAlign": "center", "labelOffset": -10, "gradientStrokeWidth": 0, "labelOverlap": false,
             "encode": {"labels": {"update": {"baseline": {"signal": "datum.value >= 1 ? 'bottom' : 'top'"}, "dy": {"signal": "datum.value >= 1 ? -4 : 4"}}}}}}
       }},
      {"mark": {"type": "rect", "opacity": 0},
       "encoding": {
         "y": {"field": "rank", "type": "ordinal", "axis": {"orient": "left", "title": "EEG Model", "labels": false, "ticks": false, "domain": false, "titleFont": "Liberation Sans", "titleFontSize": 16, "titleFontWeight": "bold", "titleColor": "#000", "titleX": -37.5, "titleY": 68, "titleAngle": 270, "titleBaseline": "bottom", "titleAlign": "center"}}
       }}
     ]},
    {"width": 258, "height": 139, "title": {"text": "E. Singular vector Similarity, U", "dx": 30, "offset": 17.2},
     "data": {"name": "fmri"}, "view": {"stroke": "#9e9e9e"},
     "resolve": {"axis": {"y": "independent"}},
     "layer": [
      {"mark": {"type": "rect"},
       "encoding": {
         "x": {"field": "depth", "type": "ordinal", "scale": {"paddingInner": 0, "paddingOuter": 0}, "axis": {"values": ["0.1","0.3","0.5","0.7","1.0"], "labelAngle": 0, "title": "Relative Depth", "domain": false}},
         "y": {"field": "rank", "type": "ordinal", "scale": {"paddingInner": 0, "paddingOuter": 0}, "axis": {"values": [1,8,15,22,30], "title": "Rank", "domain": false, "titlePadding": 3}},
         "color": {"field": "sim", "type": "quantitative", "scale": {"scheme": "magma", "domain": [0, 1]}}
       }},
      {"mark": {"type": "rect", "opacity": 0},
       "encoding": {
         "y": {"field": "rank", "type": "ordinal", "axis": {"orient": "left", "title": "fMRI Model", "labels": false, "ticks": false, "domain": false, "titleFont": "Liberation Sans", "titleFontSize": 16, "titleFontWeight": "bold", "titleColor": "#000", "titleX": -37.5, "titleY": 57, "titleAngle": 270, "titleBaseline": "bottom", "titleAlign": "center"}}
       }}
     ]}
  ]},
  {"spacing": 25, "align": "none", "vconcat": [
    {"width": 257, "height": 139, "title": {"text": "B. Singular vector Similarity, Vh", "dx": 2, "offset": 5.2},
     "data": {"name": "eeg"}, "view": {"stroke": "#9e9e9e"}, "mark": {"type": "rect"},
     "encoding": {
       "x": {"field": "depth", "type": "ordinal", "scale": {"paddingInner": 0, "paddingOuter": 0}, "axis": {"values": ["0.1","0.3","0.5","0.7","1.0"], "labelAngle": 0, "title": "Relative Layer Depth", "domain": false}},
       "y": {"field": "rank", "type": "ordinal", "scale": {"paddingInner": 0, "paddingOuter": 0}, "axis": {"values": [1,6,12,18,24,30], "title": "Rank", "domain": false, "titlePadding": 3}},
       "color": {"field": "sim", "type": "quantitative", "scale": {"scheme": "magma", "domain": [0, 1]}}
     }},
    {"width": 257, "height": 139, "title": {"text": "F. Singular vector Similarity, Vh", "dx": 2, "offset": 17.2},
     "data": {"name": "fmri"}, "view": {"stroke": "#9e9e9e"}, "mark": {"type": "rect"},
     "encoding": {
       "x": {"field": "depth", "type": "ordinal", "scale": {"paddingInner": 0, "paddingOuter": 0}, "axis": {"values": ["0.1","0.3","0.5","0.7","1.0"], "labelAngle": 0, "title": "Relative Depth", "domain": false}},
       "y": {"field": "rank", "type": "ordinal", "scale": {"paddingInner": 0, "paddingOuter": 0}, "axis": {"values": [1,8,15,22,30], "title": "Rank", "domain": false, "titlePadding": 3}},
       "color": {"field": "sim", "type": "quantitative", "scale": {"scheme": "magma", "domain": [0, 1]}}
     }}
  ]}
 ]},
 {"spacing": 5, "hconcat": [
  {"spacing": 19, "align": "none", "vconcat": [
    {"width": 124, "height": 145.7, "title": {"text": "C. Similarity vs Rank", "dx": 6, "offset": 8.7},
     "data": {"name": "eegRank"}, "view": {"stroke": null},
     "mark": {"type": "line", "color": "#00008b", "strokeWidth": 2.6, "interpolate": "monotone"},
     "encoding": {
       "x": {"field": "rank", "type": "quantitative", "scale": {"domain": [1, 30], "nice": false, "zero": false}, "axis": {"values": [1,8,15,22,30], "title": "Rank", "domainColor": "#bdbdbd", "tickColor": "#bdbdbd", "labelFlush": false, "labelPadding": 0, "titlePadding": 4}},
       "y": {"field": "sim", "type": "quantitative", "scale": {"domain": [0.932, 1.0108], "nice": false, "zero": false}, "axis": {"values": [0.94,0.96,0.98,1.0], "format": ".2f", "title": "Similarity", "domainColor": "#bdbdbd", "tickColor": "#bdbdbd", "titlePadding": 3}}
     }},
    {"width": 124, "height": 141.7, "title": {"text": "G. Similarity vs Rank", "dx": 6, "offset": 7.4},
     "data": {"name": "fmriRank"}, "view": {"stroke": null},
     "mark": {"type": "line", "color": "#00008b", "strokeWidth": 2.6, "interpolate": "monotone"},
     "encoding": {
       "x": {"field": "rank", "type": "quantitative", "scale": {"domain": [1, 30], "nice": false, "zero": false}, "axis": {"values": [1,8,15,22,30], "title": "Eigenvector Rank", "domainColor": "#bdbdbd", "tickColor": "#bdbdbd", "labelFlush": false, "labelPadding": 0, "titlePadding": 4}},
       "y": {"field": "sim", "type": "quantitative", "scale": {"domain": [0.932, 1.009], "nice": false, "zero": false}, "axis": {"values": [0.94,0.96,0.98,1.0], "format": ".2f", "title": "Similarity", "domainColor": "#bdbdbd", "tickColor": "#bdbdbd", "titlePadding": 3}}
     }}
  ]},
  {"spacing": 19, "align": "none", "vconcat": [
    {"width": 120, "height": 145.7, "title": {"text": "D. Similarity vs Layer", "dx": -10, "offset": 8.7},
     "data": {"name": "eegLayer"}, "view": {"stroke": null},
     "mark": {"type": "line", "color": "#00008b", "strokeWidth": 2.6},
     "encoding": {
       "x": {"field": "depth", "type": "quantitative", "scale": {"domain": [0.1, 1.0], "nice": false, "zero": false}, "axis": {"values": [0.1,0.3,0.6,0.8,1.0], "format": ".1f", "title": "Relative Depth", "domainColor": "#bdbdbd", "tickColor": "#bdbdbd", "labelFlush": false, "labelPadding": 0, "titlePadding": 4}},
       "y": {"field": "sim", "type": "quantitative", "scale": {"domain": [0.8833, 0.9787], "nice": false, "zero": false}, "axis": {"values": [0.9,0.92,0.94,0.96], "format": ".2f", "title": "Similarity", "domainColor": "#bdbdbd", "tickColor": "#bdbdbd", "titlePadding": 3}}
     }},
    {"width": 120, "height": 141, "title": {"text": "H. Similarity vs Layer", "dx": -10, "offset": 7.4},
     "data": {"name": "fmriLayer"}, "view": {"stroke": null},
     "mark": {"type": "line", "color": "#00008b", "strokeWidth": 2.6},
     "encoding": {
       "x": {"field": "depth", "type": "quantitative", "scale": {"domain": [0.1, 1.0], "nice": false, "zero": false}, "axis": {"values": [0.1,0.3,0.6,0.8,1.0], "format": ".1f", "title": "Relative Depth", "domainColor": "#bdbdbd", "tickColor": "#bdbdbd", "labelFlush": false, "labelPadding": 0, "titlePadding": 4}},
       "y": {"field": "sim", "type": "quantitative", "scale": {"domain": [0.893, 0.9906], "nice": false, "zero": false}, "axis": {"values": [0.9,0.92,0.94,0.96,0.98], "format": ".2f", "title": "Similarity", "domainColor": "#bdbdbd", "tickColor": "#bdbdbd", "titlePadding": 3}}
     }}
  ]}
 ]}
]
}
